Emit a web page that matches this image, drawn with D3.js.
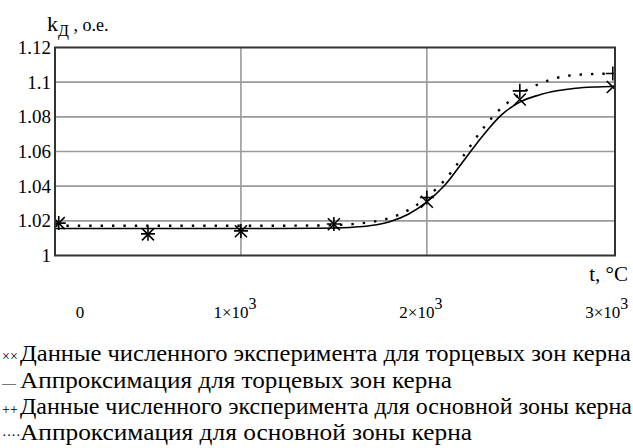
<!DOCTYPE html>
<html>
<head>
<meta charset="utf-8">
<script src="https://cdn.jsdelivr.net/npm/d3@7"></script>
</head>
<body style="margin:0">
<svg id="kd-plot" width="633" height="448"></svg>
<script>
// Temperatures of the numerical experiment, °C
const tempData = [20, 500, 1000, 1500, 2000, 2500, 3000];
// Experiment results, end zones of the core (× markers)
const endZoneData = [1.0187, 1.0122, 1.0140, 1.0180, 1.0310, 1.0900, 1.0972];
// Experiment results, main zone of the core (+ markers)
const mainZoneData = [1.0187, 1.0125, 1.0142, 1.0182, 1.0335, 1.0950, 1.1050];

// Approximation curves
const approxTemps = [0, 200, 400, 600, 800, 1000, 1200, 1400, 1500, 1600, 1700, 1800, 1900,
                     2000, 2100, 2200, 2300, 2400, 2500, 2600, 2700, 2800, 2900, 3000];
const endZoneApprox = [1.0156, 1.0156, 1.0156, 1.0156, 1.0156, 1.0156, 1.0156, 1.0157, 1.0159,
                       1.0163, 1.0173, 1.0195, 1.0238, 1.0310, 1.0410, 1.0550, 1.0690, 1.0810,
                       1.0885, 1.0925, 1.0950, 1.0965, 1.0972, 1.0975];
const mainZoneApprox = [1.0172, 1.0172, 1.0172, 1.0172, 1.0172, 1.0172, 1.0172, 1.0173, 1.0175,
                        1.0181, 1.0193, 1.0216, 1.0262, 1.0335, 1.0440, 1.0580, 1.0730, 1.0850,
                        1.0930, 1.0988, 1.1025, 1.1042, 1.1047, 1.1049];

// Axis ticks
const yTicks = [1, 1.02, 1.04, 1.06, 1.08, 1.1, 1.12];
const yTickLabels = ["1", "1.02", "1.04", "1.06", "1.08", "1.1", "1.12"];
const xTicks = [0, 1000, 2000, 3000];
const xTickMantissa = ["0", "1×10", "2×10", "3×10"];
const xTickExponent = ["", "3", "3", "3"];

// Legend entries
const legendSymbols = ["××", "—", "++", "····"];
const legendTexts = [
  "Данные численного эксперимента для торцевых зон керна",
  "Аппроксимация для торцевых зон керна",
  "Данные численного эксперимента для основной зоны керна",
  "Аппроксимация для основной зоны керна"
];

const FONT = "Liberation Serif";
const plot = { left: 55, right: 615, top: 47.5, bottom: 255.5 };

const svg = d3.select("#kd-plot");

// Every text element gets the serif face directly
function serif(sel, size) {
  return sel.attr("font-family", FONT).attr("font-size", size)
    .style("font-family", `"${FONT}"`).style("font-size", size + "px");
}

const x = d3.scaleLinear().domain([0, 3012]).range([plot.left, plot.right]);
const y = d3.scaleLinear().domain([1, 1.12]).range([plot.bottom, plot.top]);

svg.append("defs").append("clipPath").attr("id", "plot-clip")
  .append("rect")
  .attr("x", plot.left).attr("y", plot.top)
  .attr("width", plot.right - plot.left).attr("height", plot.bottom - plot.top);

// Grid lines
const grid = svg.append("g");
grid.selectAll("line.hg").data(yTicks.slice(1, -1)).join("line")
  .attr("x1", plot.left).attr("x2", plot.right)
  .attr("y1", d => y(d)).attr("y2", d => y(d))
  .attr("stroke", "#9a9a9a").attr("stroke-width", 1.6);
grid.selectAll("line.vg").data(xTicks.slice(1, -1)).join("line")
  .attr("y1", plot.top).attr("y2", plot.bottom)
  .attr("x1", d => x(d)).attr("x2", d => x(d))
  .attr("stroke", "#9a9a9a").attr("stroke-width", 1.6);

// Y axis tick labels
const yAxis = d3.axisLeft(y).tickValues(yTicks).tickSize(0).tickPadding(4)
  .tickFormat((d, i) => yTickLabels[i]);
const yg = svg.append("g").attr("transform", `translate(${plot.left},0)`).call(yAxis);
yg.attr("font-family", FONT).attr("font-size", 19);
yg.select(".domain").remove();
serif(yg.selectAll("text"), 19).attr("fill", "#000");

// X axis tick labels with superscript exponents
xTicks.forEach((t, i) => {
  const tx = i === 0 ? x(t) + 25 : x(t) - 6;
  const txt = serif(svg.append("text"), 17)
    .attr("x", tx).attr("y", 318)
    .attr("text-anchor", "middle");
  txt.append("tspan").text(xTickMantissa[i]);
  if (xTickExponent[i]) {
    txt.append("tspan").attr("dy", -9).attr("font-size", 16).style("font-size", "16px")
      .text(xTickExponent[i]);
  }
});

// Curves
const lineGen = d3.line().x(d => x(d[0])).y(d => y(d[1])).curve(d3.curveMonotoneX);
const curves = svg.append("g").attr("clip-path", "url(#plot-clip)");
curves.append("path")
  .attr("d", lineGen(approxTemps.map((t, i) => [t, endZoneApprox[i]])))
  .attr("fill", "none").attr("stroke", "#000").attr("stroke-width", 1.6);
curves.append("path")
  .attr("d", lineGen(approxTemps.map((t, i) => [t, mainZoneApprox[i]])))
  .attr("fill", "none").attr("stroke", "#000").attr("stroke-width", 2.4)
  .attr("stroke-dasharray", "2.4,9");

// Markers: × for end zones, + for main zone
const marks = curves.append("g").attr("stroke", "#000").attr("stroke-width", 1.6);
tempData.forEach((t, i) => {
  const cx = x(t), cy = y(endZoneData[i]), s = 6;
  marks.append("path")
    .attr("d", `M${cx - s},${cy - s}L${cx + s},${cy + s}M${cx - s},${cy + s}L${cx + s},${cy - s}`);
});
tempData.forEach((t, i) => {
  const cx = x(t), cy = y(mainZoneData[i]), s = 7;
  marks.append("path")
    .attr("d", `M${cx - s},${cy}L${cx + s},${cy}M${cx},${cy - s}L${cx},${cy + s}`);
});

// Frame
svg.append("rect")
  .attr("x", plot.left).attr("y", plot.top)
  .attr("width", plot.right - plot.left).attr("height", plot.bottom - plot.top)
  .attr("fill", "none").attr("stroke", "#333").attr("stroke-width", 2);

// Axis titles
const yTitle = serif(svg.append("text"), 22).attr("x", 47).attr("y", 31);
yTitle.append("tspan").text("k");
yTitle.append("tspan").attr("dy", 5).attr("font-size", 16).style("font-size", "16px").text("Д");
yTitle.append("tspan").attr("dy", -5).attr("font-size", 18).style("font-size", "18px").text(" , о.е.");

serif(svg.append("text"), 21).attr("x", 628).attr("y", 281).attr("text-anchor", "end")
  .text("t, °C");

// Legend
const legendEnds = [631, 452, 632, 472];
const legendY = [361, 388, 414, 440];
legendTexts.forEach((s, i) => {
  serif(svg.append("text"), 14).attr("x", 2).attr("y", legendY[i])
    .text(legendSymbols[i]);
  serif(svg.append("text"), 23).attr("x", 20).attr("y", legendY[i])
    .attr("textLength", legendEnds[i] - 20).attr("lengthAdjust", "spacingAndGlyphs")
    .text(s);
});
</script>
</body>
</html>
